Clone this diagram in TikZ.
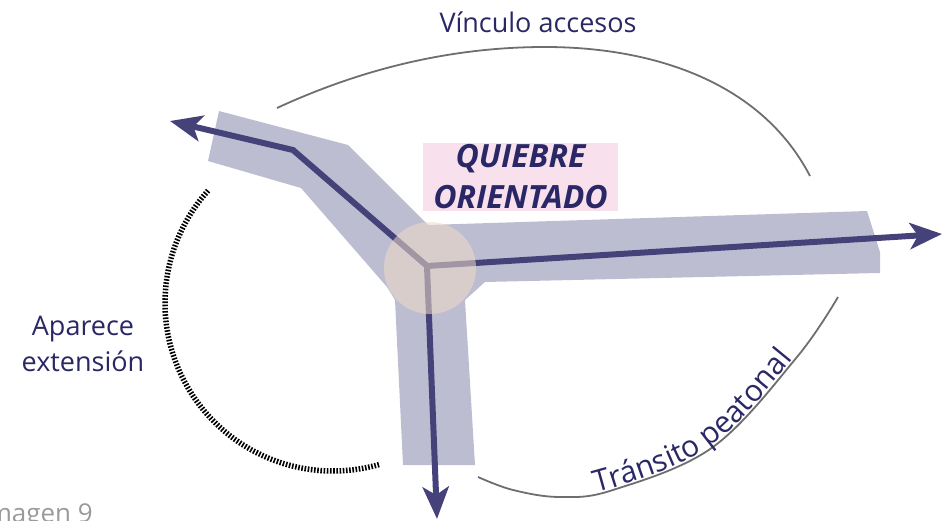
\documentclass[tikz,border=0pt]{standalone}
\usepackage{fontspec}
\setmainfont{Open Sans}
\usetikzlibrary{arrows.meta,decorations.text}
\definecolor{band}{HTML}{BDBDD2}
\definecolor{arrowc}{HTML}{45427A}
\definecolor{peach}{HTML}{EFDBC7}
\definecolor{pinkbox}{HTML}{F8E1EC}
\definecolor{navy}{HTML}{2A2766}
\definecolor{arcgray}{HTML}{6E6E6E}
\definecolor{capgray}{HTML}{9A9A9A}
\begin{document}
\begin{tikzpicture}[x=1pt,y=-1pt,
  flow/.style={draw=arrowc,line width=6pt,line join=miter},
  tipE/.style={-{Stealth[length=32pt,width=26pt,inset=8pt]}},
  tipB/.style={{Stealth[length=32pt,width=26pt,inset=8pt]}-{Stealth[length=32pt,width=26pt,inset=8pt]}},
  arcline/.style={draw=arcgray,line width=1.8pt},
  lbl/.style={text=navy,inner sep=0pt,font=\fontsize{27}{36}\selectfont},
]
\useasboundingbox (0,0) rectangle (943,521);
% street band
\fill[band] (219,111) -- (348,145) -- (428,225) -- (867,211) -- (880,252) -- (880,273)
  -- (485,282) -- (465,300) -- (475,465) -- (403,465) -- (395,300) -- (387,287)
  -- (301,188) -- (208,161) -- cycle;
% arrows
\coordinate (c) at (427,266);
\coordinate (lb) at (293,150);
\coordinate (lt) at (170,121);
\coordinate (rt) at (942,234);
\coordinate (dt) at (437,519);
\draw[flow,tipB] (lt) -- (lb) -- (c) -- (rt);
\draw[flow,tipE] (c) -- (dt);
% node circle
\fill[peach,opacity=0.55] (430,268) circle[radius=46pt];
% label box
\node[fill=pinkbox,minimum width=195pt,minimum height=68pt,inner sep=0pt,align=center,
  text=navy,font=\bfseries\itshape\fontsize{32}{41}\selectfont] (q) at (520.5,177) {QUIEBRE\\ORIENTADO};
% top arc
\coordinate (va1) at (277,108);
\coordinate (vam) at (545,47);
\coordinate (va2) at (810,176);
\draw[arcline] (va1) .. controls (370,65) and (460,47) .. (vam)
  .. controls (650,47) and (760,80) .. (va2);
\node[lbl,anchor=base] (vin) at (538,33) {Vínculo accesos};
% dashed arc
\draw[line width=5.5pt,dash pattern=on 1.6pt off 1.6pt,color=black]
  plot[domain=138:286,samples=90,smooth] ({333+168*cos(\x)},{303-168*sin(\x)});
\node[lbl,align=center] (ap) at (83,344) {Aparece\\extensión};
% bottom arc
\coordinate (ta1) at (478,477);
\coordinate (ta2) at (838,297);
\draw[arcline] plot[smooth,tension=0.6] coordinates {(ta1) (513,490) (560,497) (613,490) (713,447) (797,357) (ta2)};
\path[decorate,decoration={text along path,raise=2pt,text align={left indent=122pt},
  text={|\fontsize{30}{30}\selectfont\color{navy}|Tránsito peatonal}}]
  plot[smooth,tension=0.6] coordinates {(ta1) (513,490) (560,497) (613,490) (713,447) (797,357) (ta2)};
% caption
\node[font=\fontsize{26}{26}\selectfont,text=capgray,anchor=base east,inner sep=0pt] (img) at (93,522) {Imagen 9};
\end{tikzpicture}
\end{document}
